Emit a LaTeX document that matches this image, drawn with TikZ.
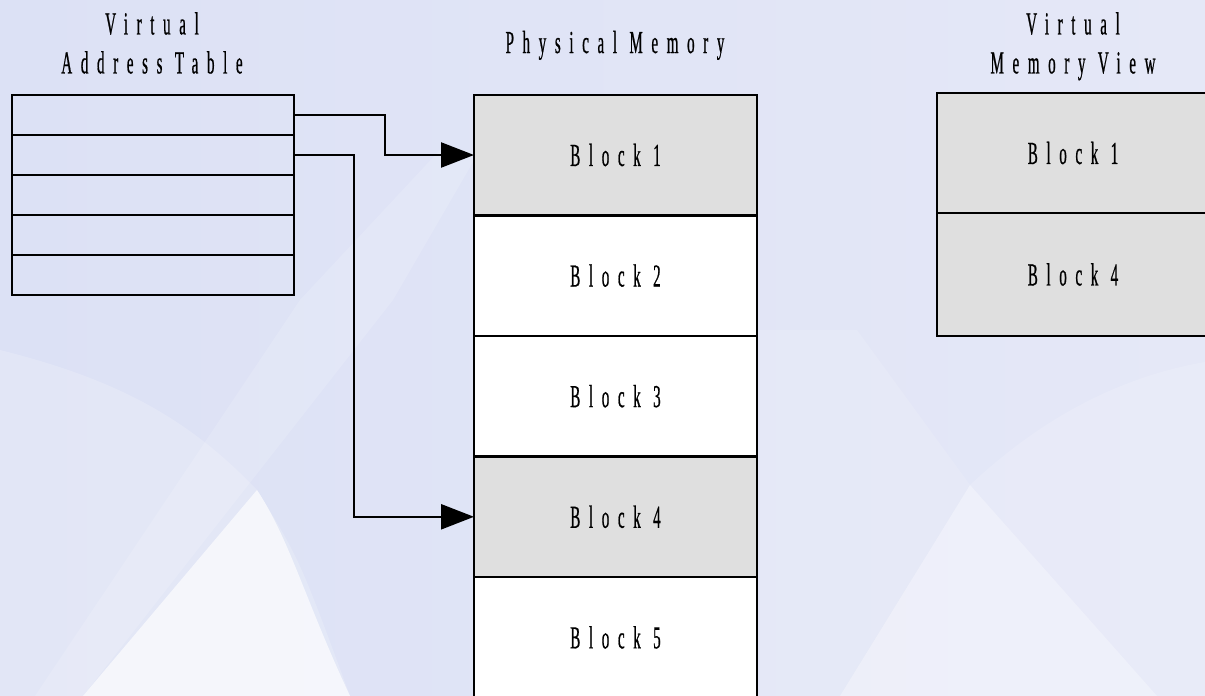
\documentclass[tikz,border=0pt]{standalone}
\usepackage{fontspec}
\usepackage{xcolor}
\usepackage{tikz}
\usetikzlibrary{arrows.meta}
\usetikzlibrary{positioning}
\newfontfamily\memfont[FakeStretch=0.47,FakeBold=0.6,LetterSpace=27]{Liberation Serif}
\definecolor{bgleft}{RGB}{220,225,245}
\definecolor{bgright}{RGB}{229,232,247}
\definecolor{blockgray}{RGB}{223,223,223}

\begin{document}
\begin{tikzpicture}[x=1pt,y=-1pt,node distance=0pt,
    every node/.style={font=\memfont\fontsize{32}{39}\selectfont},
    title/.style={align=center,inner sep=0pt},
    cell/.style={draw,line width=2.4pt,outer sep=0pt,inner sep=0pt,minimum width=282pt,minimum height=40pt},
    block/.style={draw,line width=2.4pt,outer sep=0pt,inner sep=0pt,minimum width=283pt,minimum height=120.6pt,fill=white},
    used/.style={block,fill=blockgray},
    ptr/.style={line width=2.4pt,-{Triangle[length=33pt,width=25pt]}}]
  % backdrop
  \shade[left color=bgleft,right color=bgright] (0,0) rectangle (1205,696);
  \useasboundingbox (0,0) rectangle (1205,696);
  \fill[white,opacity=.18] (0,350) .. controls (120,380) and (190,420) .. (257,490)
    .. controls (300,560) .. (350,696) -- (0,696) -- cycle;
  \fill[white,opacity=.15] (35,696) -- (300,300) -- (440,150) -- (480,150) -- (393,300) -- (83,696) -- cycle;
  \fill[white,opacity=.65] (83,696) -- (257,490) .. controls (290,540) and (305,600) .. (350,696) -- cycle;
  \fill[white,opacity=.15] (840,696) -- (970,485) .. controls (1050,410) and (1130,375) .. (1205,362)
    -- (1205,696) -- cycle;
  \fill[white,opacity=.3] (840,696) -- (970,485) -- (1157,696) -- cycle;
  \fill[white,opacity=.12] (760,330) -- (857,330) -- (970,485) -- (840,696) -- (760,696) -- cycle;

  % titles
  \node[title,anchor=north] (attitle) at (152,12) {Virtual\\Address Table};
  \node[title,anchor=base] (pmtitle) at (615,53) {Physical Memory};
  \node[title,anchor=north] (vmtitle) at (1073,12) {Virtual\\Memory View};

  % virtual address table
  \node[cell] (at1) at (153,115) {};
  \node[cell,below=of at1] (at2) {};
  \node[cell,below=of at2] (at3) {};
  \node[cell,below=of at3] (at4) {};
  \node[cell,below=of at4] (at5) {};

  % physical memory
  \node[used] (pm1) at (615.5,155) {Block 1};
  \node[block,below=of pm1] (pm2) {Block 2};
  \node[block,below=of pm2] (pm3) {Block 3};
  \node[used,below=of pm3] (pm4) {Block 4};
  \node[block,below=of pm4] (pm5) {Block 5};

  % virtual memory view
  \node[used,minimum width=272pt,minimum height=120pt] (vm1) at (1073,153) {Block 1};
  \node[used,minimum width=272pt,minimum height=123pt,below=of vm1] (vm2) {Block 4};

  \draw[ptr] (at1.east) -- ++(91,0) |- (pm1.west);
  \draw[ptr] (at2.east) -- ++(60,0) |- (pm4.west);
\end{tikzpicture}
\end{document}
